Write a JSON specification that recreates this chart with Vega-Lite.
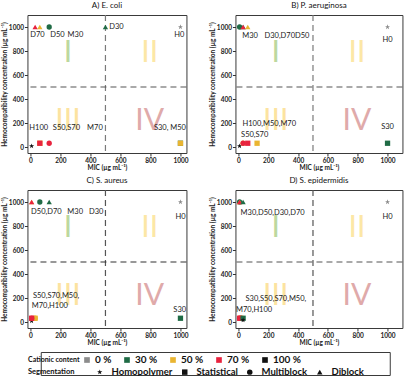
{
  "$schema": "https://vega.github.io/schema/vega-lite/v6.json",
  "padding": {"left": 0, "top": 1, "right": 0, "bottom": 0},
  "background": "white",
  "datasets": {
    "cutoffs": [{"mic": 500, "hemo": 500}],
    "numerals": [
      {"numeral": "I", "mic": 250, "hemo": 780},
      {"numeral": "II", "mic": 795, "hemo": 780},
      {"numeral": "III", "mic": 250, "hemo": 215},
      {"numeral": "IV", "mic": 795, "hemo": 215}
    ],
    "points": [
      {"panel": "A", "name": "H0", "content": "0 %", "segmentation": "Homopolymer", "mic": 1000, "hemo": 1000},
      {"panel": "A", "name": "D70", "content": "70 %", "segmentation": "Diblock", "mic": 31.25, "hemo": 1000},
      {"panel": "A", "name": "D50", "content": "50 %", "segmentation": "Diblock", "mic": 62.5, "hemo": 1000},
      {"panel": "A", "name": "M30", "content": "30 %", "segmentation": "Multiblock", "mic": 125, "hemo": 1000},
      {"panel": "A", "name": "D30", "content": "30 %", "segmentation": "Diblock", "mic": 500, "hemo": 1000},
      {"panel": "A", "name": "H100", "content": "100 %", "segmentation": "Homopolymer", "mic": 7.8, "hemo": 7.8},
      {"panel": "A", "name": "S50", "content": "50 %", "segmentation": "Statistical", "mic": 62.5, "hemo": 31.25},
      {"panel": "A", "name": "S70", "content": "70 %", "segmentation": "Statistical", "mic": 62.5, "hemo": 31.25},
      {"panel": "A", "name": "M70", "content": "70 %", "segmentation": "Multiblock", "mic": 125, "hemo": 31.25},
      {"panel": "A", "name": "S30", "content": "30 %", "segmentation": "Statistical", "mic": 1000, "hemo": 31.25},
      {"panel": "A", "name": "M50", "content": "50 %", "segmentation": "Statistical", "mic": 1000, "hemo": 31.25},
      {"panel": "B", "name": "H0", "content": "0 %", "segmentation": "Homopolymer", "mic": 1000, "hemo": 1000},
      {"panel": "B", "name": "M30", "content": "30 %", "segmentation": "Multiblock", "mic": 7.8, "hemo": 1000},
      {"panel": "B", "name": "D30", "content": "30 %", "segmentation": "Diblock", "mic": 31.25, "hemo": 1000},
      {"panel": "B", "name": "D70", "content": "70 %", "segmentation": "Diblock", "mic": 31.25, "hemo": 1000},
      {"panel": "B", "name": "D50", "content": "50 %", "segmentation": "Diblock", "mic": 62.5, "hemo": 1000},
      {"panel": "B", "name": "H100", "content": "100 %", "segmentation": "Homopolymer", "mic": 7.8, "hemo": 7.8},
      {"panel": "B", "name": "M50", "content": "50 %", "segmentation": "Multiblock", "mic": 31.25, "hemo": 31.25},
      {"panel": "B", "name": "M70", "content": "70 %", "segmentation": "Multiblock", "mic": 31.25, "hemo": 31.25},
      {"panel": "B", "name": "S70", "content": "70 %", "segmentation": "Statistical", "mic": 62.5, "hemo": 31.25},
      {"panel": "B", "name": "S50", "content": "50 %", "segmentation": "Statistical", "mic": 125, "hemo": 31.25},
      {"panel": "B", "name": "S30", "content": "30 %", "segmentation": "Statistical", "mic": 1000, "hemo": 31.25},
      {"panel": "C", "name": "H0", "content": "0 %", "segmentation": "Homopolymer", "mic": 1000, "hemo": 1000},
      {"panel": "C", "name": "D50", "content": "50 %", "segmentation": "Diblock", "mic": 7.8, "hemo": 1000},
      {"panel": "C", "name": "D70", "content": "70 %", "segmentation": "Diblock", "mic": 7.8, "hemo": 1000},
      {"panel": "C", "name": "M30", "content": "30 %", "segmentation": "Multiblock", "mic": 62.5, "hemo": 1000},
      {"panel": "C", "name": "D30", "content": "30 %", "segmentation": "Diblock", "mic": 125, "hemo": 1000},
      {"panel": "C", "name": "H100", "content": "100 %", "segmentation": "Homopolymer", "mic": 7.8, "hemo": 7.8},
      {"panel": "C", "name": "S50", "content": "50 %", "segmentation": "Statistical", "mic": 31.25, "hemo": 31.25},
      {"panel": "C", "name": "M50", "content": "50 %", "segmentation": "Multiblock", "mic": 31.25, "hemo": 31.25},
      {"panel": "C", "name": "S70", "content": "70 %", "segmentation": "Statistical", "mic": 7.8, "hemo": 31.25},
      {"panel": "C", "name": "M70", "content": "70 %", "segmentation": "Multiblock", "mic": 7.8, "hemo": 31.25},
      {"panel": "C", "name": "S30", "content": "30 %", "segmentation": "Statistical", "mic": 1000, "hemo": 31.25},
      {"panel": "D", "name": "H0", "content": "0 %", "segmentation": "Homopolymer", "mic": 1000, "hemo": 1000},
      {"panel": "D", "name": "M30", "content": "30 %", "segmentation": "Multiblock", "mic": 7.8, "hemo": 1000},
      {"panel": "D", "name": "D50", "content": "50 %", "segmentation": "Diblock", "mic": 7.8, "hemo": 1000},
      {"panel": "D", "name": "D70", "content": "70 %", "segmentation": "Diblock", "mic": 7.8, "hemo": 1000},
      {"panel": "D", "name": "D30", "content": "30 %", "segmentation": "Diblock", "mic": 31.25, "hemo": 1000},
      {"panel": "D", "name": "S50", "content": "50 %", "segmentation": "Statistical", "mic": 15.6, "hemo": 31.25},
      {"panel": "D", "name": "M50", "content": "50 %", "segmentation": "Multiblock", "mic": 15.6, "hemo": 31.25},
      {"panel": "D", "name": "S70", "content": "70 %", "segmentation": "Statistical", "mic": 7.8, "hemo": 31.25},
      {"panel": "D", "name": "M70", "content": "70 %", "segmentation": "Multiblock", "mic": 7.8, "hemo": 31.25},
      {"panel": "D", "name": "S30", "content": "30 %", "segmentation": "Statistical", "mic": 31.25, "hemo": 31.25},
      {"panel": "D", "name": "H100", "content": "100 %", "segmentation": "Homopolymer", "mic": 31.25, "hemo": 15.6}
    ],
    "labels": [
      {"panel": "A", "text": "D70", "mic": 47, "hemo": 930},
      {"panel": "A", "text": "D50", "mic": 180, "hemo": 930},
      {"panel": "A", "text": "M30", "mic": 300, "hemo": 930},
      {"panel": "A", "text": "D30", "mic": 573, "hemo": 1000},
      {"panel": "A", "text": "H0", "mic": 992, "hemo": 930},
      {"panel": "A", "text": "H100", "mic": 55, "hemo": 160},
      {"panel": "A", "text": "S50,S70", "mic": 240, "hemo": 160},
      {"panel": "A", "text": "M70", "mic": 430, "hemo": 160},
      {"panel": "A", "text": "S30, M50", "mic": 930, "hemo": 160},
      {"panel": "B", "text": "M30", "mic": 78, "hemo": 922},
      {"panel": "B", "text": "D30,D70", "mic": 277, "hemo": 922},
      {"panel": "B", "text": "D50", "mic": 428, "hemo": 922},
      {"panel": "B", "text": "H0", "mic": 1000, "hemo": 890},
      {"panel": "B", "text": "H100,M50,M70", "mic": 207, "hemo": 195},
      {"panel": "B", "text": "S50,S70", "mic": 109, "hemo": 104},
      {"panel": "B", "text": "S30", "mic": 1000, "hemo": 165},
      {"panel": "C", "text": "D50,D70", "mic": 106, "hemo": 917},
      {"panel": "C", "text": "M30", "mic": 298, "hemo": 917},
      {"panel": "C", "text": "D30", "mic": 438, "hemo": 917},
      {"panel": "C", "text": "H0", "mic": 1000, "hemo": 876},
      {"panel": "C", "text": "S50,S70,M50,", "mic": 171, "hemo": 218},
      {"panel": "C", "text": "M70,H100", "mic": 129, "hemo": 130},
      {"panel": "C", "text": "S30", "mic": 995, "hemo": 103},
      {"panel": "D", "text": "M30,D50,D30,D70", "mic": 229, "hemo": 912},
      {"panel": "D", "text": "H0", "mic": 1000, "hemo": 876},
      {"panel": "D", "text": "S30,S50,S70,M50,", "mic": 251, "hemo": 194},
      {"panel": "D", "text": "M70,H100", "mic": 105, "hemo": 103}
    ]
  },
  "vconcat": [
    {
      "hconcat": [
        {
          "width": 159, "height": 138,
          "title": "A) E. coli",
          "layer": [
            {"data": {"name": "cutoffs"}, "mark": {"type": "rule", "strokeDash": [6, 4], "color": "#7a7a7a", "strokeWidth": 1.2},
             "encoding": {"x": {"field": "mic", "type": "quantitative", "scale": {"domain": [-20, 1040], "nice": false, "zero": false}, "axis": {"title": "MIC (µg mL⁻¹)", "values": [0, 200, 400, 600, 800, 1000], "tickCount": 12, "format": "d", "labelFlush": false}}}},
            {"data": {"name": "cutoffs"}, "mark": {"type": "rule", "strokeDash": [6, 4], "color": "#555555", "strokeWidth": 1.2},
             "encoding": {"y": {"field": "hemo", "type": "quantitative", "scale": {"domain": [-50, 1100], "nice": false, "zero": false}, "axis": {"title": "Hemocompatibility concentration (µg mL⁻¹)", "values": [0, 200, 400, 600, 800, 1000], "tickCount": 12, "format": "d"}}}},
            {"data": {"name": "numerals"}, "mark": {"type": "text", "fontSize": 30, "baseline": "middle", "align": "center"},
             "encoding": {"x": {"field": "mic", "type": "quantitative"}, "y": {"field": "hemo", "type": "quantitative"}, "text": {"field": "numeral"},
               "fill": {"field": "numeral", "type": "nominal", "legend": null, "scale": {"domain": ["I", "II", "III", "IV"], "range": ["#bcd89e", "#fce7a6", "#fce3a0", "#dfaaaa"]}}}},
            {"data": {"name": "points"}, "transform": [{"filter": "datum.panel === 'A'"}],
             "mark": {"type": "point", "filled": true, "opacity": 1, "size": 28},
             "encoding": {
               "x": {"field": "mic", "type": "quantitative"},
               "y": {"field": "hemo", "type": "quantitative"},
               "color": {"field": "content", "type": "nominal", "title": "Cationic content",
                 "scale": {"domain": ["0 %", "30 %", "50 %", "70 %", "100 %"], "range": ["#8c8c8c", "#1f6b45", "#eab531", "#e8233e", "#111111"]},
                 "legend": {"orient": "none", "legendX": 1, "legendY": 340, "direction": "horizontal", "titleOrient": "left", "symbolType": "square", "symbolSize": 32, "symbolStrokeWidth": 0, "labelFontSize": 10, "labelFontWeight": "bold", "titleFontSize": 7, "titleFontWeight": "bold", "columnPadding": 10, "labelOffset": 3, "titlePadding": 2, "titleBaseline": "middle", "titleAnchor": "middle", "padding": 0}},
               "shape": {"field": "segmentation", "type": "nominal", "title": "Segmentation",
                 "scale": {"domain": ["Homopolymer", "Statistical", "Multiblock", "Diblock"], "range": ["M0,-1L0.236,-0.325L0.951,-0.309L0.382,0.124L0.588,0.809L0,0.4L-0.588,0.809L-0.382,0.124L-0.951,-0.309L-0.236,-0.325Z", "square", "circle", "triangle-up"]},
                 "legend": {"orient": "none", "legendX": 1, "legendY": 352, "direction": "horizontal", "titleOrient": "left", "symbolSize": 30, "symbolFillColor": "#111111", "symbolStrokeColor": "#111111", "symbolStrokeWidth": 0, "labelFontSize": 9.5, "labelFontWeight": "bold", "titleFontSize": 7.5, "titleFontWeight": "bold", "columnPadding": 7, "labelOffset": 7, "titlePadding": 20, "titleBaseline": "middle", "titleAnchor": "middle", "padding": 0,
                   "encode": {"symbols": {"update": {"fill": {"value": "#111111"}, "stroke": {"value": "#111111"}}}}}}
             }},
            {"data": {"name": "labels"}, "transform": [{"filter": "datum.panel === 'A'"}],
             "mark": {"type": "text", "fontSize": 7.5, "color": "#1a1a1a", "baseline": "middle"},
             "encoding": {"x": {"field": "mic", "type": "quantitative"}, "y": {"field": "hemo", "type": "quantitative"}, "text": {"field": "text"}}}
          ]
        },
        {
          "width": 167, "height": 138,
          "title": "B) P. aeruginosa",
          "layer": [
            {"data": {"name": "cutoffs"}, "mark": {"type": "rule", "strokeDash": [6, 4], "color": "#7a7a7a", "strokeWidth": 1.2},
             "encoding": {"x": {"field": "mic", "type": "quantitative", "scale": {"domain": [-20, 1100], "nice": false, "zero": false}, "axis": {"title": "MIC (µg mL⁻¹)", "values": [0, 200, 400, 600, 800, 1000], "tickCount": 12, "format": "d", "labelFlush": false}}}},
            {"data": {"name": "cutoffs"}, "mark": {"type": "rule", "strokeDash": [6, 4], "color": "#555555", "strokeWidth": 1.2},
             "encoding": {"y": {"field": "hemo", "type": "quantitative", "scale": {"domain": [-50, 1100], "nice": false, "zero": false}, "axis": {"title": "Hemocompatibility concentration (µg mL⁻¹)", "values": [0, 200, 400, 600, 800, 1000], "tickCount": 12, "format": "d"}}}},
            {"data": {"name": "numerals"}, "mark": {"type": "text", "fontSize": 30, "baseline": "middle", "align": "center"},
             "encoding": {"x": {"field": "mic", "type": "quantitative"}, "y": {"field": "hemo", "type": "quantitative"}, "text": {"field": "numeral"},
               "fill": {"field": "numeral", "type": "nominal", "legend": null}}},
            {"data": {"name": "points"}, "transform": [{"filter": "datum.panel === 'B'"}],
             "mark": {"type": "point", "filled": true, "opacity": 1, "size": 28},
             "encoding": {"x": {"field": "mic", "type": "quantitative"}, "y": {"field": "hemo", "type": "quantitative"}, "color": {"field": "content", "type": "nominal"}, "shape": {"field": "segmentation", "type": "nominal"}}},
            {"data": {"name": "labels"}, "transform": [{"filter": "datum.panel === 'B'"}],
             "mark": {"type": "text", "fontSize": 7.5, "color": "#1a1a1a", "baseline": "middle"},
             "encoding": {"x": {"field": "mic", "type": "quantitative"}, "y": {"field": "hemo", "type": "quantitative"}, "text": {"field": "text"}}}
          ]
        }
      ],
      "spacing": 19
    },
    {
      "hconcat": [
        {
          "width": 159, "height": 138,
          "title": "C) S. aureus",
          "layer": [
            {"data": {"name": "cutoffs"}, "mark": {"type": "rule", "strokeDash": [6, 4], "color": "#555555", "strokeWidth": 1.2},
             "encoding": {"x": {"field": "mic", "type": "quantitative", "scale": {"domain": [-20, 1040], "nice": false, "zero": false}, "axis": {"title": "MIC (µg mL⁻¹)", "values": [0, 200, 400, 600, 800, 1000], "tickCount": 12, "format": "d", "labelFlush": false}}}},
            {"data": {"name": "cutoffs"}, "mark": {"type": "rule", "strokeDash": [6, 4], "color": "#333333", "strokeWidth": 1.2},
             "encoding": {"y": {"field": "hemo", "type": "quantitative", "scale": {"domain": [-50, 1100], "nice": false, "zero": false}, "axis": {"title": "Hemocompatibility concentration (µg mL⁻¹)", "values": [0, 200, 400, 600, 800, 1000], "tickCount": 12, "format": "d"}}}},
            {"data": {"name": "numerals"}, "mark": {"type": "text", "fontSize": 30, "baseline": "middle", "align": "center"},
             "encoding": {"x": {"field": "mic", "type": "quantitative"}, "y": {"field": "hemo", "type": "quantitative"}, "text": {"field": "numeral"},
               "fill": {"field": "numeral", "type": "nominal", "legend": null}}},
            {"data": {"name": "points"}, "transform": [{"filter": "datum.panel === 'C'"}],
             "mark": {"type": "point", "filled": true, "opacity": 1, "size": 28},
             "encoding": {"x": {"field": "mic", "type": "quantitative"}, "y": {"field": "hemo", "type": "quantitative"}, "color": {"field": "content", "type": "nominal"}, "shape": {"field": "segmentation", "type": "nominal"}}},
            {"data": {"name": "labels"}, "transform": [{"filter": "datum.panel === 'C'"}],
             "mark": {"type": "text", "fontSize": 7.5, "color": "#1a1a1a", "baseline": "middle"},
             "encoding": {"x": {"field": "mic", "type": "quantitative"}, "y": {"field": "hemo", "type": "quantitative"}, "text": {"field": "text"}}}
          ]
        },
        {
          "width": 167, "height": 138,
          "title": "D) S. epidermidis",
          "layer": [
            {"data": {"name": "cutoffs"}, "mark": {"type": "rule", "strokeDash": [6, 4], "color": "#555555", "strokeWidth": 1.2},
             "encoding": {"x": {"field": "mic", "type": "quantitative", "scale": {"domain": [-20, 1100], "nice": false, "zero": false}, "axis": {"title": "MIC (µg mL⁻¹)", "values": [0, 200, 400, 600, 800, 1000], "tickCount": 12, "format": "d", "labelFlush": false}}}},
            {"data": {"name": "cutoffs"}, "mark": {"type": "rule", "strokeDash": [6, 4], "color": "#555555", "strokeWidth": 1.2},
             "encoding": {"y": {"field": "hemo", "type": "quantitative", "scale": {"domain": [-50, 1100], "nice": false, "zero": false}, "axis": {"title": "Hemocompatibility concentration (µg mL⁻¹)", "values": [0, 200, 400, 600, 800, 1000], "tickCount": 12, "format": "d"}}}},
            {"data": {"name": "numerals"}, "mark": {"type": "text", "fontSize": 30, "baseline": "middle", "align": "center"},
             "encoding": {"x": {"field": "mic", "type": "quantitative"}, "y": {"field": "hemo", "type": "quantitative"}, "text": {"field": "numeral"},
               "fill": {"field": "numeral", "type": "nominal", "legend": null}}},
            {"data": {"name": "points"}, "transform": [{"filter": "datum.panel === 'D'"}],
             "mark": {"type": "point", "filled": true, "opacity": 1, "size": 28},
             "encoding": {"x": {"field": "mic", "type": "quantitative"}, "y": {"field": "hemo", "type": "quantitative"}, "color": {"field": "content", "type": "nominal"}, "shape": {"field": "segmentation", "type": "nominal"}}},
            {"data": {"name": "labels"}, "transform": [{"filter": "datum.panel === 'D'"}],
             "mark": {"type": "text", "fontSize": 7.5, "color": "#1a1a1a", "baseline": "middle"},
             "encoding": {"x": {"field": "mic", "type": "quantitative"}, "y": {"field": "hemo", "type": "quantitative"}, "text": {"field": "text"}}}
          ]
        }
      ],
      "spacing": 19
    },
    {
      "width": 349, "height": 23,
      "data": {"name": "cutoffs"},
      "mark": {"type": "point", "opacity": 0},
      "encoding": {},
      "view": {"stroke": "#3a3a3a", "strokeWidth": 1}
    }
  ],
  "spacing": 4,
  "center": true,
  "resolve": {"scale": {"x": "independent", "y": "independent"}},
  "config": {
    "font": "Lato",
    "view": {"stroke": "#3a3a3a", "strokeWidth": 1},
    "axis": {"grid": false, "domain": false, "tickSize": 3, "tickColor": "#333", "labelFontSize": 6.5, "labelFontWeight": "bold", "labelColor": "#222", "labelPadding": 1, "titleFontSize": 6.5, "titleFontWeight": "bold", "titleColor": "#222", "titlePadding": 1},
    "title": {"fontSize": 8, "fontWeight": "normal", "offset": 4, "color": "#111"},
    "legend": {"labelColor": "#111", "titleColor": "#111"}
  }
}
